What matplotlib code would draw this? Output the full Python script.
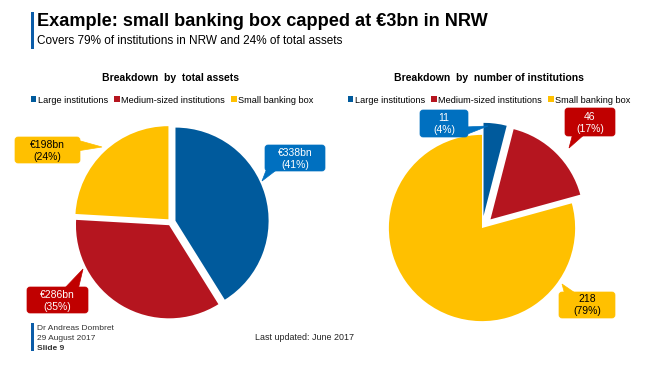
#!/usr/bin/env python3
"""
Recreate the 'small banking box' slide: two pies with callout labels.
"""
import matplotlib
matplotlib.use('Agg')
import matplotlib.pyplot as plt
from matplotlib.patches import FancyBboxPatch, Polygon, Rectangle

plt.rcParams['font.family'] = ['Liberation Sans', 'DejaVu Sans']

# Data
categories = ['Large institutions', 'Medium-sized institutions', 'Small banking box']
assets_bn = [338, 286, 198]
assets_pct = [41, 35, 24]
inst_counts = [11, 46, 218]
inst_pct = [4, 17, 79]

slice_colors = ['#005A9C', '#B5151F', '#FFC000']
box_colors = ['#0070C0', '#C00000', '#FFC000']
text_colors = ['white', 'white', 'black']

W, H = 650, 366
BLUE = '#0B5CA8'


def fx(x):
    return x / W


def fy(y):
    return 1 - y / H


def pie_axes(fig, cx, cy, r, lim=1.2):
    """Axes whose unit-radius pie sits at pixel centre (cx, cy) with radius r"""
    half = lim * r
    ax = fig.add_axes([fx(cx - half), fy(cy + half), 2 * half / W, 2 * half / H])
    ax.set_xlim(-lim, lim)
    ax.set_ylim(-lim, lim)
    ax.set_aspect('equal')
    ax.axis('off')
    return ax


def callout(ax, text, box, base, tip, fc, tc):
    """Rounded label box with a triangular pointer, in slide pixel coords"""
    x0, y0, x1, y1 = box
    ax.add_patch(Polygon([base[0], base[1], tip], closed=True, fc=fc, ec=fc, lw=0.5))
    ax.add_patch(FancyBboxPatch((x0, y0), x1 - x0, y1 - y0,
                                boxstyle='round,pad=0,rounding_size=3',
                                fc=fc, ec=fc, lw=0.5))
    ax.text((x0 + x1) / 2, (y0 + y1) / 2 + 0.5, text, color=tc, fontsize=7.5,
            ha='center', va='center', linespacing=1.25)


def main():
    fig = plt.figure(figsize=(6.5, 3.66), dpi=100)

    # Pies
    ax1 = pie_axes(fig, 171, 222, 97)
    w1, _ = ax1.pie(assets_bn, colors=slice_colors, startangle=90, counterclock=False,
                    explode=[0.05, 0.04, 0.04], wedgeprops=dict(linewidth=0))
    ax2 = pie_axes(fig, 482, 228, 97)
    w2, _ = ax2.pie(inst_counts, colors=slice_colors, startangle=90, counterclock=False,
                    explode=[0.13, 0.13, 0.0], wedgeprops=dict(linewidth=0))

    # Legends
    for wedges, cx in [(w1, 172), (w2, 489)]:
        fig.legend(wedges, categories, loc='center', bbox_to_anchor=(fx(cx), fy(100)),
                   ncol=3, frameon=False, fontsize=6.6, handlelength=0.6, handleheight=0.6,
                   handletextpad=0.15, columnspacing=0.7, borderpad=0)

    # Overlay in slide pixel coordinates
    ov = fig.add_axes([0, 0, 1, 1], zorder=5)
    ov.set_xlim(0, W)
    ov.set_ylim(H, 0)
    ov.axis('off')
    ov.patch.set_alpha(0)

    # Callouts: box (x0, y0, x1, y1), pointer base points, pointer tip
    left_layout = [
        ((265, 145, 325, 171), ((267, 168), (279, 168)), (262, 181)),
        ((27, 287, 88, 313), ((63, 290), (78, 290)), (83, 269)),
        ((15, 137, 80, 163), ((77, 140), (77, 151)), (102, 147)),
    ]
    right_layout = [
        ((420, 110, 468, 137), ((465, 127), (465, 135)), (488, 126)),
        ((565, 108, 615, 136), ((573, 133), (586, 133)), (569, 148)),
        ((559, 292, 615, 318), ((565, 295), (578, 295)), (562, 284)),
    ]
    for i, (box, base, tip) in enumerate(left_layout):
        callout(ov, f'€{assets_bn[i]}bn\n({assets_pct[i]}%)', box, base, tip,
                box_colors[i], text_colors[i])
    for i, (box, base, tip) in enumerate(right_layout):
        callout(ov, f'{inst_counts[i]}\n({inst_pct[i]}%)', box, base, tip,
                box_colors[i], text_colors[i])

    # Titles
    ov.add_patch(Rectangle((31, 12), 3, 37, color=BLUE, lw=0))
    ov.text(37, 21, 'Example: small banking box capped at €3bn in NRW', fontsize=13.1,
            fontweight='bold', va='center', ha='left')
    ov.text(37, 41, 'Covers 79% of institutions in NRW and 24% of total assets',
            fontsize=8.5, va='center', ha='left')
    ov.text(171, 78, 'Breakdown  by  total assets', fontsize=7.5, fontweight='bold',
            ha='center', va='center')
    ov.text(489, 78, 'Breakdown  by  number of institutions', fontsize=7.5,
            fontweight='bold', ha='center', va='center')

    # Footer
    ov.add_patch(Rectangle((31, 323), 3, 28, color=BLUE, lw=0))
    ov.text(37, 329, 'Dr Andreas Dombret', fontsize=6, color='#333333', va='center')
    ov.text(37, 339, '29 August 2017', fontsize=6, color='#333333', va='center')
    ov.text(37, 348, 'Slide 9', fontsize=6, fontweight='bold', color='#333333', va='center')
    ov.text(255, 338, 'Last updated: June 2017', fontsize=6.4, color='#222222', va='center')

    fig.savefig('out.png', dpi=100)


if __name__ == "__main__":
    main()
